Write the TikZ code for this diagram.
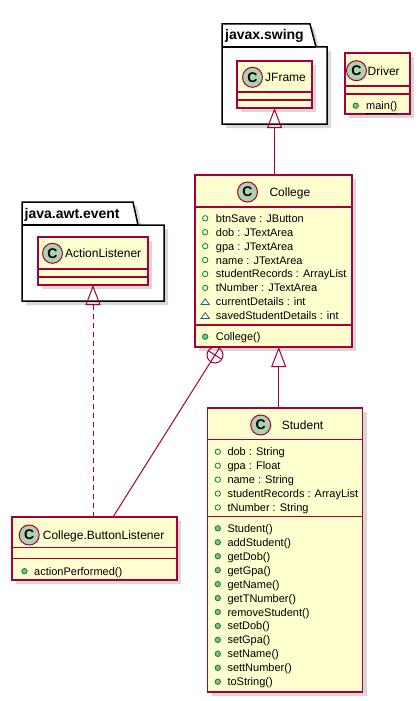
\documentclass[tikz,border=0pt]{standalone}
\usepackage{fontspec}
\setmainfont{Liberation Sans}
\usetikzlibrary{arrows.meta,shadows,calc}
\definecolor{umlred}{RGB}{168,0,54}
\definecolor{umlfill}{RGB}{254,254,206}
\definecolor{spotgreen}{RGB}{173,209,178}
\definecolor{visgreen}{RGB}{3,128,72}
\definecolor{visfill}{RGB}{132,190,132}
\definecolor{visblue}{RGB}{25,99,160}

\begin{document}
\begin{tikzpicture}[x=1pt,y=-1pt,
  classbox/.style={draw=umlred, fill=umlfill, line width=1.2pt, inner sep=0pt, outer sep=0pt,
    anchor=north west, drop shadow={shadow xshift=4pt, shadow yshift=-4pt, opacity=0.3}},
  pkgline/.style={draw=black, fill=white, line width=1.5pt, line join=miter,
    drop shadow={shadow xshift=4pt, shadow yshift=-4pt, opacity=0.3}},
  sepline/.style={draw=umlred, line width=1.2pt},
  spot/.style={circle, draw=umlred, fill=spotgreen, line width=1pt, minimum size=20pt, inner sep=0pt,
    font=\fontsize{14}{14}\selectfont\bfseries},
  classname/.style={inner sep=0pt, anchor=base west, font=\fontsize{12}{14}\selectfont},
  pkgname/.style={inner sep=0pt, anchor=base west, font=\fontsize{14}{16}\selectfont\bfseries},
  member/.style={inner sep=0pt, anchor=base west, font=\fontsize{11}{13}\selectfont},
  pubfield/.style={draw=visgreen, line width=0.8pt},
  pubmethod/.style={draw=visgreen, fill=visfill, line width=0.8pt},
  pkgfield/.style={draw=visblue, line width=0.8pt, line join=miter},
  extends/.style={draw=umlred, line width=1pt, -{Triangle[open, length=20pt, width=15pt]}},
  implements/.style={extends, dash pattern=on 5pt off 4pt},
  nestline/.style={draw=umlred, line width=1pt}]

\fill[white] (0,0) rectangle (420,701);
\useasboundingbox (0,0) rectangle (420,701);

% packages
\draw[pkgline] (222,24) -- (310,24) -- (316,47) -- (327,47) -- (327,124) -- (222,124) -- cycle;
\draw[line width=1.5pt] (222,47) -- (316,47);
\node[pkgname] (swingName) at (225,39.5) {javax.swing};

\draw[pkgline] (22,202) -- (133,202) -- (138,225) -- (164,225) -- (164,301) -- (22,301) -- cycle;
\draw[line width=1.5pt] (22,225) -- (138,225);
\node[pkgname] (awtName) at (24.5,218.3) {java.awt.event};

% JFrame
\node[classbox, minimum width=75pt, minimum height=47pt] (jframe) at (237,61) {};
\draw[sepline] ([yshift=-31pt]jframe.north west) -- ([yshift=-31pt]jframe.north east);
\draw[sepline] ([yshift=-39pt]jframe.north west) -- ([yshift=-39pt]jframe.north east);
\node[spot] (jframeC) at (252.5,77.3) {C};
\node[classname] (jframeName) at (265,81.8) {JFrame};

% Driver
\node[classbox, minimum width=65pt, minimum height=61pt] (driver) at (345,53) {};
\draw[sepline] ([yshift=-33pt]driver.north west) -- ([yshift=-33pt]driver.north east);
\draw[sepline] ([yshift=-41pt]driver.north west) -- ([yshift=-41pt]driver.north east);
\node[spot] (driverC) at (356.5,70.7) {C};
\node[classname] (driverName) at (367.5,75.2) {Driver};
\draw[pubmethod] (355.7,105.7) circle (2.7pt);
\node[member] (driverM0) at (366,109.7) {\underline{main()}};

% ActionListener
\node[classbox, minimum width=110pt, minimum height=48pt] (action) at (38,237) {};
\draw[sepline] ([yshift=-32pt]action.north west) -- ([yshift=-32pt]action.north east);
\draw[sepline] ([yshift=-40pt]action.north west) -- ([yshift=-40pt]action.north east);
\node[spot] (actionC) at (52.5,253.3) {C};
\node[classname] (actionName) at (65,257.8) {ActionListener};

% College
\node[classbox, minimum width=157pt, minimum height=172pt] (college) at (195,175) {};
\draw[sepline] ([yshift=-32pt]college.north west) -- ([yshift=-32pt]college.north east);
\draw[sepline] ([yshift=-150pt]college.north west) -- ([yshift=-150pt]college.north east);
\node[spot] (collegeC) at (247.5,192) {C};
\node[classname] (collegeName) at (269.3,196.5) {College};
\foreach \txt [count=\i from 0] in {btnSave : JButton, dob : JTextArea, gpa : JTextArea,
    name : JTextArea, studentRecords : ArrayList, tNumber : JTextArea} {
  \draw[pubfield] (205.2,218.3+13.92*\i) circle (2.7pt);
  \node[member] (collegeA\i) at (215.7,222.3+13.92*\i) {\txt};
}
\foreach \txt [count=\i from 6] in {currentDetails : int, savedStudentDetails : int} {
  \draw[pkgfield] (201,221+13.92*\i) -- (209.4,221+13.92*\i) -- (205.2,215.3+13.92*\i) -- cycle;
  \node[member] (collegeA\i) at (215.7,222.3+13.92*\i) {\txt};
}
\draw[pubmethod] (205.2,336.7) circle (2.7pt);
\node[member] (collegeM0) at (215.7,340.7) {College()};

% Student
\node[classbox, minimum width=155pt, minimum height=284pt] (student) at (207.5,408) {};
\draw[sepline] ([yshift=-31.3pt]student.north west) -- ([yshift=-31.3pt]student.north east);
\draw[sepline] ([yshift=-108.7pt]student.north west) -- ([yshift=-108.7pt]student.north east);
\node[spot] (studentC) at (260.7,425) {C};
\node[classname] (studentName) at (281.7,429.5) {Student};
\foreach \txt [count=\i from 0] in {dob : String, gpa : Float, name : String,
    studentRecords : ArrayList, tNumber : String} {
  \draw[pubfield] (217.8,451.7+13.95*\i) circle (2.7pt);
  \node[member] (studentA\i) at (227.3,455.7+13.95*\i) {\txt};
}
\foreach \txt [count=\i from 0] in {Student(), addStudent(), getDob(), getGpa(), getName(),
    getTNumber(), removeStudent(), setDob(), setGpa(), setName(), settNumber(), toString()} {
  \draw[pubmethod] (217.8,528.3+13.95*\i) circle (2.7pt);
  \node[member] (studentM\i) at (227.3,532.3+13.95*\i) {\txt};
}

% College.ButtonListener
\node[classbox, minimum width=165pt, minimum height=63pt] (buttonl) at (12,517) {};
\draw[sepline] ([yshift=-30.3pt]buttonl.north west) -- ([yshift=-30.3pt]buttonl.north east);
\draw[sepline] ([yshift=-41.3pt]buttonl.north west) -- ([yshift=-41.3pt]buttonl.north east);
\node[spot] (buttonlC) at (29.2,535) {C};
\node[classname] (buttonlName) at (42.7,539.5) {College.ButtonListener};
\draw[pubmethod] (24.5,571.2) circle (2.7pt);
\node[member] (buttonlM0) at (34,575.2) {actionPerformed()};

% relations
\draw[extends] (jframe.south |- college.north) -- (jframe.south);
\coordinate (stuTop) at ([xshift=-6.3pt]student.north);
\draw[extends] (stuTop) -- (stuTop |- college.south);
\draw[implements] (action.south |- buttonl.north) -- (action.south);
\coordinate (nestC) at ([xshift=-58.5pt,yshift=-8pt]college.south);
\coordinate (nestEnd) at ([xshift=18.5pt]buttonl.north);
\draw[nestline] (nestC) circle (8pt);
\draw[nestline] (nestEnd) -- ($(nestC)!-8pt!(nestEnd)$);
\draw[nestline] ($(nestC)!8pt!90:(nestEnd)$) -- ($(nestC)!8pt!-90:(nestEnd)$);
\end{tikzpicture}
\end{document}
